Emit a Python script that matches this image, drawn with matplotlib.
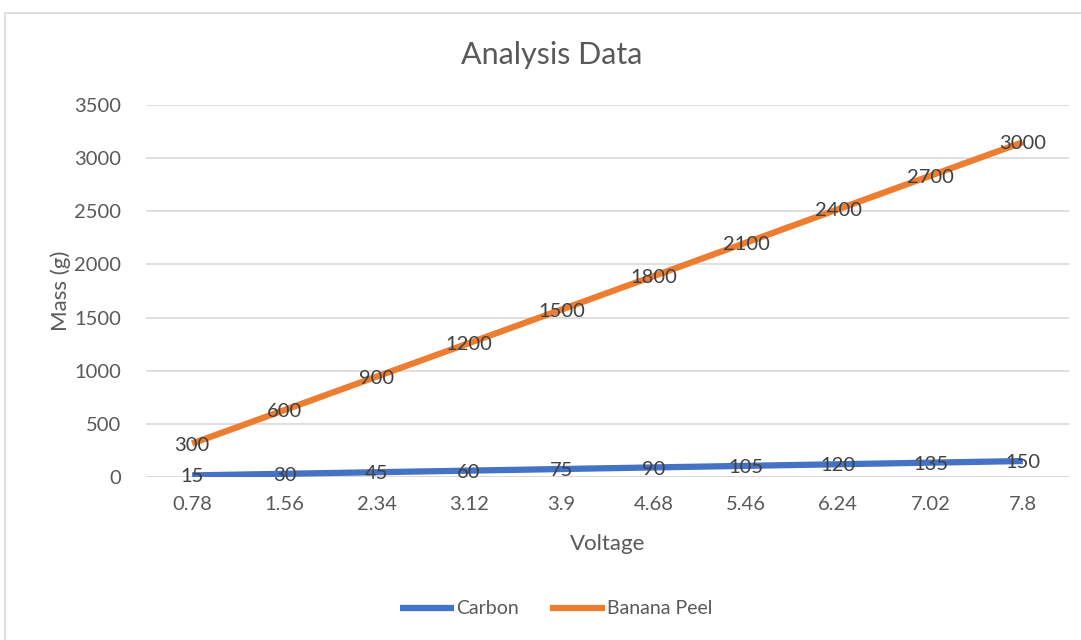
import matplotlib.pyplot as plt
import numpy as np
from matplotlib.patches import Rectangle

plt.rcParams['font.family'] = ['Lato', 'DejaVu Sans']

voltage = ['0.78', '1.56', '2.34', '3.12', '3.9', '4.68', '5.46', '6.24', '7.02', '7.8']
carbon = [15, 30, 45, 60, 75, 90, 105, 120, 135, 150]
banana = [300, 600, 900, 1200, 1500, 1800, 2100, 2400, 2700, 3000]

blue = '#4472C4'
orange = '#ED7D31'
grey = '#595959'

fig = plt.figure(figsize=(10.81, 6.40), dpi=100)
# chart area border (Excel style, runs off the right/bottom)
fig.patches.append(Rectangle((5 / 1081, -0.1), 1.2, 1 - 13 / 640 + 0.1,
                             transform=fig.transFigure, fill=False,
                             edgecolor='#D9D9D9', lw=1.2))

ax = fig.add_axes([146 / 1081, 1 - 477 / 640, (1069 - 146) / 1081, (477 - 105) / 640])

x = np.arange(len(voltage))
c = np.array(carbon)
b = np.array(banana)
stacked = c + b  # stacked line chart

ax.plot(x, c, color=blue, lw=4.5, solid_capstyle='butt', label='Carbon', zorder=3)
ax.plot(x, stacked, color=orange, lw=4.5, solid_capstyle='butt', label='Banana Peel', zorder=3)

for xi, yi, v in zip(x, c, carbon):
    ax.text(xi, yi - 15, str(v), ha='center', va='center', fontsize=14.5, color='#404040', zorder=4)
for xi, yi, v in zip(x, stacked, banana):
    ax.text(xi, yi - 15, str(v), ha='center', va='center', fontsize=14.5, color='#404040', zorder=4)

ax.set_xlim(-0.5, len(voltage) - 0.5)
ax.set_ylim(0, 3500)
ax.set_yticks(range(0, 3501, 500))
ax.set_xticks(x)
ax.set_xticklabels(voltage)
ax.tick_params(length=0, labelsize=14.5, labelcolor=grey, pad=14)
ax.tick_params(axis='y', pad=18)
ax.grid(axis='y', color='#D9D9D9', lw=1.2)
ax.set_axisbelow(True)
for s in ax.spines.values():
    s.set_visible(False)
ax.axhline(0, color='#D9D9D9', lw=1.2, zorder=1)

ax.set_xlabel('Voltage', fontsize=16, color=grey, labelpad=15)
ax.set_ylabel('Mass (g)', fontsize=16, color=grey, labelpad=2)
fig.text(552 / 1081, 1 - 55 / 640, 'Analysis Data', ha='center', va='center',
         fontsize=22, color=grey)

fig.legend(loc='center', bbox_to_anchor=(556 / 1081, 1 - 609 / 640), ncol=2,
           frameon=False, fontsize=14, labelcolor=grey, handlelength=2.8,
           handletextpad=0.1, columnspacing=1.6)

fig.savefig('out.png', dpi=100)
